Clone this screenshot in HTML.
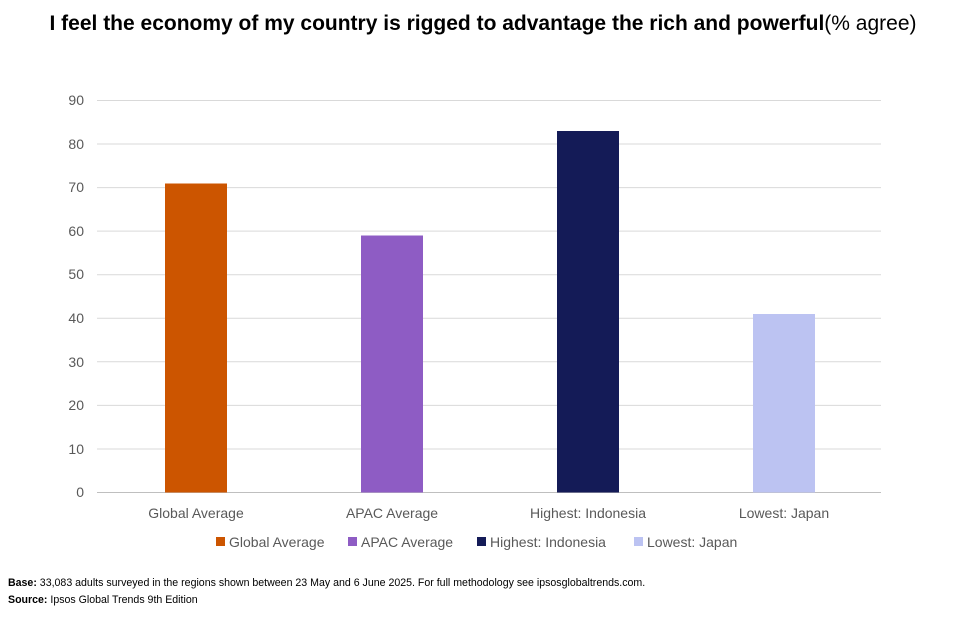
<!DOCTYPE html>
<html><head><meta charset="utf-8"><style>
body{margin:0;background:#fff;width:963px;height:613px;overflow:hidden;font-family:"Liberation Sans",sans-serif;}
</style></head><body>
<svg width="963" height="613" xmlns="http://www.w3.org/2000/svg" font-family="Liberation Sans, sans-serif">
<text x="483" y="30" text-anchor="middle" font-size="21" font-weight="bold" fill="#000">I feel the economy of my country is rigged to advantage the rich and powerful<tspan font-weight="normal">(% agree)</tspan></text>
<g stroke="#d9d9d9" stroke-width="1">
<line x1="97" x2="881" y1="100.5" y2="100.5"/><line x1="97" x2="881" y1="144" y2="144"/>
<line x1="97" x2="881" y1="187.6" y2="187.6"/><line x1="97" x2="881" y1="231.1" y2="231.1"/>
<line x1="97" x2="881" y1="274.7" y2="274.7"/><line x1="97" x2="881" y1="318.3" y2="318.3"/>
<line x1="97" x2="881" y1="361.8" y2="361.8"/><line x1="97" x2="881" y1="405.4" y2="405.4"/>
<line x1="97" x2="881" y1="449" y2="449"/>
</g>
<line x1="97" x2="881" y1="492.5" y2="492.5" stroke="#bfbfbf"/>
<g font-size="14" fill="#595959" text-anchor="end">
<text x="84" y="105">90</text><text x="84" y="149">80</text><text x="84" y="192">70</text>
<text x="84" y="236">60</text><text x="84" y="279">50</text><text x="84" y="323">40</text>
<text x="84" y="367">30</text><text x="84" y="410">20</text><text x="84" y="454">10</text><text x="84" y="497">0</text>
</g>
<rect x="165" y="183.5" width="62" height="309" fill="#cc5500"/>
<rect x="361" y="235.5" width="62" height="257" fill="#8e5cc4"/>
<rect x="557" y="131" width="62" height="361.5" fill="#141b57"/>
<rect x="753" y="314" width="62" height="178.5" fill="#bcc3f2"/>
<g font-size="14" fill="#595959" text-anchor="middle">
<text x="196" y="518">Global Average</text><text x="392" y="518">APAC Average</text>
<text x="588" y="518">Highest: Indonesia</text><text x="784" y="518">Lowest: Japan</text>
</g>
<g font-size="14" fill="#595959">
<rect x="216" y="537" width="9" height="9" fill="#cc5500"/><text x="229" y="547">Global Average</text>
<rect x="348" y="537" width="9" height="9" fill="#8e5cc4"/><text x="361" y="547">APAC Average</text>
<rect x="477" y="537" width="9" height="9" fill="#141b57"/><text x="490" y="547">Highest: Indonesia</text>
<rect x="634" y="537" width="9" height="9" fill="#bcc3f2"/><text x="647" y="547">Lowest: Japan</text>
</g>
<g font-size="10.6" fill="#000">
<text x="8" y="586"><tspan font-weight="bold">Base:</tspan> 33,083 adults surveyed in the regions shown between 23 May and 6 June 2025. For full methodology see ipsosglobaltrends.com.</text>
<text x="8" y="603"><tspan font-weight="bold">Source:</tspan> Ipsos Global Trends 9th Edition</text>
</g>
</svg>
</body></html>
